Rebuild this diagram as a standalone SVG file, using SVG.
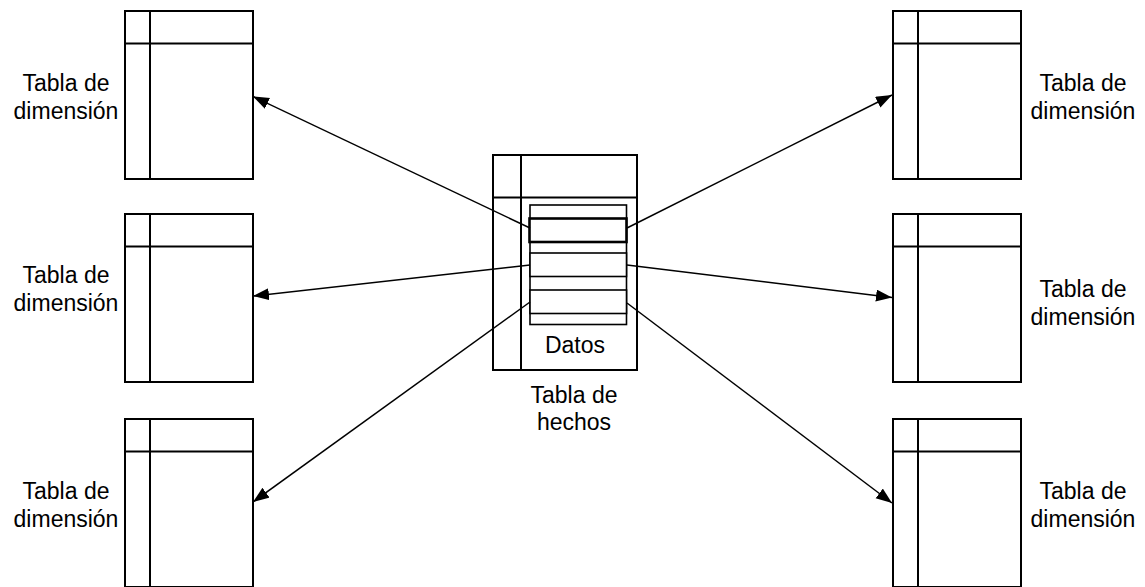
<svg xmlns="http://www.w3.org/2000/svg" width="1145" height="587" viewBox="0 0 1145 587">
  <style>
    .frame { fill: #ffffff; stroke: #000000; stroke-width: 2; }
    .rule { stroke: #000000; stroke-width: 2; fill: none; }
    .row { fill: #ffffff; stroke: #000000; stroke-width: 1.6; }
    .row-key { fill: #ffffff; stroke: #000000; stroke-width: 2.6; }
    .label { font-family: "Liberation Sans", Arial, sans-serif; font-size: 23px; fill: #000000; text-anchor: middle; }
    .link { stroke: #000000; stroke-width: 1.5; fill: none; marker-end: url(#arrow); }
  </style>
  <defs>
    <marker id="arrow" markerUnits="userSpaceOnUse" markerWidth="17" markerHeight="13" refX="16" refY="6" orient="auto">
      <path d="M0,0 L16,6 L0,12 z" fill="#000000"/>
    </marker>
    <!-- Dimension table glyph: outer frame, header row, key column -->
    <g id="dimTable">
      <rect class="frame" x="0" y="0" width="128" height="168"/>
      <line class="rule" x1="0" y1="32.5" x2="128" y2="32.5"/>
      <line class="rule" x1="25" y1="0" x2="25" y2="168"/>
    </g>
  </defs>

  <!-- Left column of dimension tables -->
  <g id="dim-left-top">
    <use href="#dimTable" x="125" y="11"/>
    <text class="label" x="66" y="91">Tabla de</text>
    <text class="label" x="66" y="119">dimensión</text>
  </g>
  <g id="dim-left-middle">
    <use href="#dimTable" x="125" y="214"/>
    <text class="label" x="66" y="283">Tabla de</text>
    <text class="label" x="66" y="311">dimensión</text>
  </g>
  <g id="dim-left-bottom">
    <use href="#dimTable" x="125" y="419"/>
    <text class="label" x="66" y="499">Tabla de</text>
    <text class="label" x="66" y="527">dimensión</text>
  </g>

  <!-- Right column of dimension tables -->
  <g id="dim-right-top">
    <use href="#dimTable" x="893" y="11"/>
    <text class="label" x="1083" y="91">Tabla de</text>
    <text class="label" x="1083" y="119">dimensión</text>
  </g>
  <g id="dim-right-middle">
    <use href="#dimTable" x="893" y="214"/>
    <text class="label" x="1083" y="297">Tabla de</text>
    <text class="label" x="1083" y="325">dimensión</text>
  </g>
  <g id="dim-right-bottom">
    <use href="#dimTable" x="893" y="419"/>
    <text class="label" x="1083" y="499">Tabla de</text>
    <text class="label" x="1083" y="527">dimensión</text>
  </g>

  <!-- Fact table with its data rows -->
  <g id="fact-table">
    <rect class="frame" x="493" y="155" width="144" height="215"/>
    <line class="rule" x1="493" y1="197.5" x2="637" y2="197.5"/>
    <line class="rule" x1="521" y1="155" x2="521" y2="370"/>
    <rect class="row" x="530" y="205" width="96.5" height="119.5"/>
    <rect class="row" x="530" y="253" width="96.5" height="23.5"/>
    <rect class="row" x="530" y="290" width="96.5" height="23.5"/>
    <rect class="row-key" x="529.5" y="218.5" width="97" height="23.5"/>
    <text class="label" x="575" y="353">Datos</text>
    <text class="label" x="574" y="403">Tabla de</text>
    <text class="label" x="574" y="430">hechos</text>
  </g>

  <!-- Relationships from the fact rows to each dimension -->
  <g id="connectors">
    <line class="link" x1="530" y1="228" x2="253" y2="96.5"/>
    <line class="link" x1="530" y1="265" x2="253" y2="296"/>
    <line class="link" x1="530" y1="302" x2="253" y2="502"/>
    <line class="link" x1="627" y1="228" x2="892" y2="95"/>
    <line class="link" x1="627" y1="265" x2="892" y2="297.5"/>
    <line class="link" x1="627" y1="303" x2="892" y2="503"/>
  </g>
</svg>
